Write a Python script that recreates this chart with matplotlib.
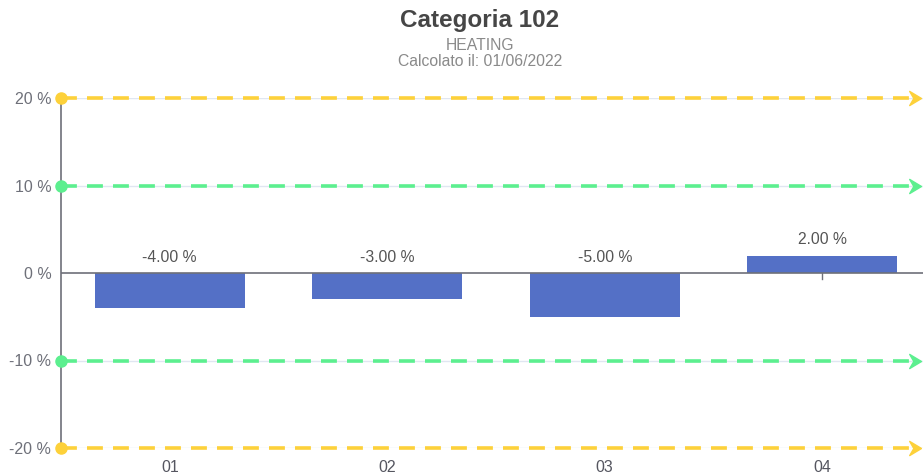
import matplotlib
matplotlib.use("Agg")
import matplotlib.pyplot as plt

# Chart data
categories = ["01", "02", "03", "04"]
values = [-4.0, -3.0, -5.0, 2.0]
y_ticks = [-20, -10, 0, 10, 20]
y_tick_labels = ["-20 %", "-10 %", "0 %", "10 %", "20 %"]
limit_outer = [20, -20]   # yellow reference lines
limit_inner = [10, -10]   # green reference lines

title = "Categoria 102"
subtitle_1 = "HEATING"
subtitle_2 = "Calcolato il: 01/06/2022"

plt.rcParams["font.family"] = ["Liberation Sans", "DejaVu Sans"]

W, H = 923, 475
fig = plt.figure(figsize=(W / 100, H / 100), dpi=100)
fig.patch.set_facecolor("white")

# plot area in pixels: left 61, right 931 (runs past the canvas edge), top 98, bottom 448
left, right, top, bottom = 61, 931, 98, 448
ax = fig.add_axes([left / W, 1 - bottom / H, (right - left) / W, (bottom - top) / H])
ax.set_xlim(-0.5, len(categories) - 0.5)
ax.set_ylim(-20, 20)

# split lines
for t in y_ticks:
    if t != 0:
        ax.axhline(t, color="#E0E6F1", lw=1, zorder=1)

# bars
xs = list(range(len(categories)))
ax.bar(xs, values, width=0.69, color="#5470C6", zorder=3)

# value labels above the zero line / bar top
for x, v in zip(xs, values):
    top_v = max(v, 0)
    ax.annotate(f"{v:.2f} %", (x, top_v), xytext=(0, 6), textcoords="offset points",
                ha="center", va="bottom", fontsize=11.3, color="#555555", zorder=5)

# x axis line at zero
ax.axhline(0, color="#6E7079", lw=1.2, zorder=4)

# reference lines with circle start and arrow end
arrow = [(0, 0), (-1, 0.6), (-0.65, 0), (-1, -0.6), (0, 0)]
x_end = -0.5 + (921 - left) / (right - left) * len(categories)
for vals, col in ((limit_outer, "#FDD13A"), (limit_inner, "#5CEF8F")):
    for v in vals:
        ax.plot([-0.5, x_end - 0.05], [v, v], color=col, lw=2.6,
                dashes=(4.4, 2.8), zorder=6, clip_on=False,
                dash_capstyle="butt")
        ax.plot([-0.5], [v], marker="o", ms=8, color=col, mec=col,
                zorder=7, clip_on=False)
        ax.plot([x_end], [v], marker=arrow, ms=17, color=col, mec=col,
                zorder=7, clip_on=False)

# axes styling
for s in ("top", "right", "bottom"):
    ax.spines[s].set_visible(False)
ax.spines["left"].set_color("#6E7079")
ax.spines["left"].set_linewidth(1.2)
ax.spines["left"].set_zorder(2)

ax.set_yticks(y_ticks)
ax.set_yticklabels(y_tick_labels)
ax.tick_params(axis="y", length=0, pad=7, labelsize=11.5, labelcolor="#6E7079")

ax.set_xticks(xs)
ax.set_xticklabels(categories)
ax.tick_params(axis="x", length=0, pad=9, labelsize=11.5, labelcolor="#555660")
# small tick on the zero line under the last category
ax.plot([xs[-1], xs[-1]], [0, -0.7], color="#6E7079", lw=1, zorder=4)

# titles
fig.text(480 / W, 1 - 20 / H, title, ha="center", va="center",
         fontsize=17.5, fontweight="bold", color="#464646")
fig.text(480 / W, 1 - 45 / H, subtitle_1, ha="center", va="center",
         fontsize=11.3, color="#8A8A8A")
fig.text(480 / W, 1 - 61 / H, subtitle_2, ha="center", va="center",
         fontsize=11.3, color="#8A8A8A")

fig.savefig("out.png", dpi=100, facecolor="white")
